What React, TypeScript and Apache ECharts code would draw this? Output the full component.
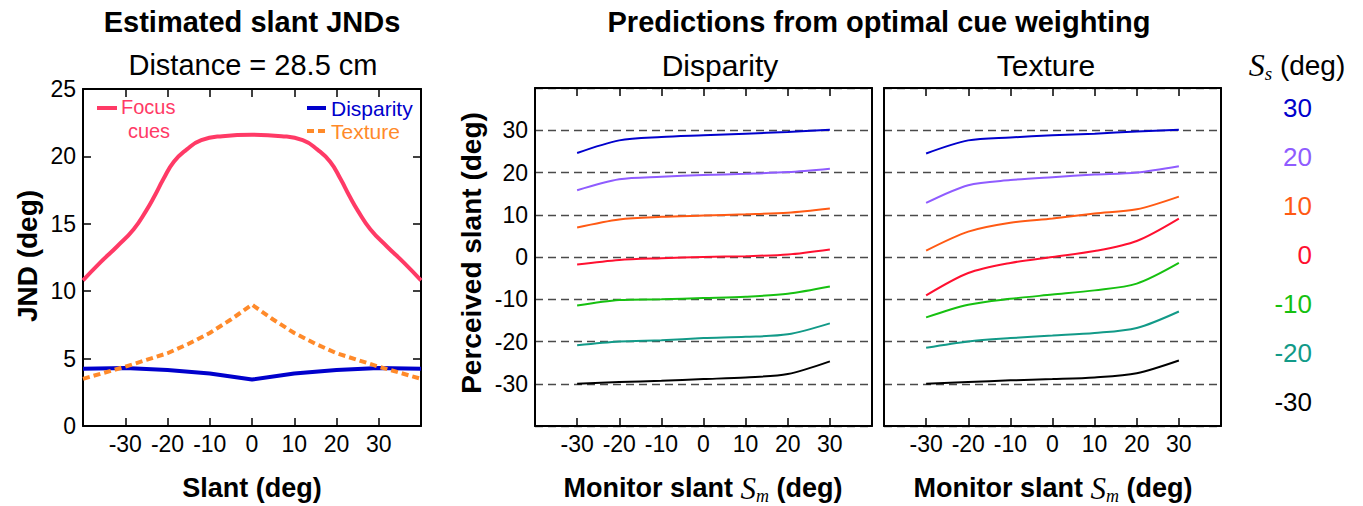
import React, { useEffect, useRef } from "react";
import * as echarts from "echarts";

// ---------- Data ----------
// Left panel: estimated slant JNDs
const focusX = [-40, -36, -32, -28, -25, -23, -21, -18.5, -15.5, -12, -7, 0, 7, 12, 15.5, 18.5, 21, 23, 25, 28, 32, 36, 40];
const focusJND = [10.8, 12.1, 13.3, 14.6, 16.0, 17.1, 18.3, 19.6, 20.5, 21.2, 21.5, 21.6, 21.5, 21.2, 20.5, 19.6, 18.3, 17.1, 16.0, 14.6, 13.3, 12.1, 10.8];
const disparityX = [-40, -30, -20, -10, 0, 10, 20, 30, 40];
const disparityJND = [4.25, 4.3, 4.15, 3.9, 3.45, 3.9, 4.15, 4.3, 4.25];
const textureX = [-40, -35, -30, -25, -20, -15, -10, -5, 0, 5, 10, 15, 20, 25, 30, 35, 40];
const textureJND = [3.5, 3.95, 4.4, 4.9, 5.4, 6.1, 6.9, 7.9, 9.0, 7.9, 6.9, 6.1, 5.4, 4.9, 4.4, 3.95, 3.5];

// Middle/right panels: predicted perceived slant vs monitor slant
const monitorSlant = [-30, -20, -10, 0, 10, 20, 30];
const simSlants = [30, 20, 10, 0, -10, -20, -30];
const simColors = ["#0000cc", "#8f5cff", "#ff5a14", "#ff1030", "#16c010", "#129a88", "#000000"];

const dispPred30 = [24.6, 27.6, 28.4, 28.8, 29.2, 29.6, 30.1];
const dispPred20 = [15.8, 18.4, 19.0, 19.4, 19.7, 20.1, 20.9];
const dispPred10 = [7.0, 8.9, 9.5, 9.8, 10.1, 10.5, 11.5];
const dispPred0 = [-1.8, -0.7, -0.3, 0.0, 0.2, 0.6, 1.8];
const dispPredM10 = [-11.5, -10.2, -10.0, -9.7, -9.4, -8.7, -7.0];
const dispPredM20 = [-20.9, -20.0, -19.7, -19.2, -18.9, -18.3, -15.7];
const dispPredM30 = [-30.0, -29.6, -29.3, -28.9, -28.5, -27.7, -24.7];

const texPred30 = [24.5, 27.6, 28.3, 28.8, 29.2, 29.7, 30.1];
const texPred20 = [12.8, 17.0, 18.2, 18.9, 19.5, 20.0, 21.5];
const texPred10 = [1.5, 6.0, 8.1, 9.1, 10.3, 11.3, 14.3];
const texPred0 = [-9.1, -3.8, -1.4, 0.0, 1.4, 3.8, 9.1];
const texPredM10 = [-14.3, -11.3, -9.9, -8.9, -7.9, -6.3, -1.4];
const texPredM20 = [-21.5, -20.0, -19.2, -18.6, -18.0, -16.8, -12.9];
const texPredM30 = [-30.0, -29.6, -29.2, -28.9, -28.5, -27.5, -24.5];

const dispPreds = [dispPred30, dispPred20, dispPred10, dispPred0, dispPredM10, dispPredM20, dispPredM30];
const texPreds = [texPred30, texPred20, texPred10, texPred0, texPredM10, texPredM20, texPredM30];

const FONT = "'Liberation Sans', Arial, Helvetica, sans-serif";
const SERIF = "'Liberation Serif', 'Times New Roman', serif";

const zip = (xs: number[], ys: number[]) => xs.map((x, i) => [x, ys[i]]);

export default function App() {
  const ref = useRef<HTMLDivElement>(null);

  useEffect(() => {
    document.body.style.margin = "0";
    if (!ref.current) return;
    const chart = echarts.init(ref.current, undefined, { renderer: "svg" });

    const tickLabel = { fontFamily: FONT, fontSize: 23, color: "#000" };
    const boxLine = { show: true, lineStyle: { color: "#000", width: 2 } };
    const hide40 = (v: number) => (Math.abs(v) === 40 ? "" : String(v));

    const grids = [
      { left: 83, top: 89, width: 338, height: 337 },
      { left: 535, top: 88, width: 337, height: 338 },
      { left: 884, top: 88, width: 337, height: 338 },
    ];

    const xAxes: any[] = [];
    const yAxes: any[] = [];
    grids.forEach((_, gi) => {
      xAxes.push({
        type: "value", gridIndex: gi, position: "bottom", min: -40, max: 40, interval: 10,
        axisLine: { ...boxLine, onZero: false },
        axisTick: { show: true, inside: true, length: 8, lineStyle: { color: "#000", width: 1.5 } },
        axisLabel: { ...tickLabel, margin: 6, formatter: hide40 },
        splitLine: { show: false },
      });
      xAxes.push({
        type: "value", gridIndex: gi, position: "top", min: -40, max: 40, interval: 10,
        axisLine: { ...boxLine, onZero: false },
        axisTick: { show: true, inside: true, length: 8, lineStyle: { color: "#000", width: 1.5 } },
        axisLabel: { show: false },
        splitLine: { show: false },
      });
      if (gi === 0) {
        yAxes.push({
          type: "value", gridIndex: gi, position: "left", min: 0, max: 25, interval: 5,
          axisLine: { ...boxLine, onZero: false },
          axisTick: { show: true, inside: true, length: 8, lineStyle: { color: "#000", width: 1.5 } },
          axisLabel: { ...tickLabel, margin: 7 },
          splitLine: { show: false },
        });
        yAxes.push({
          type: "value", gridIndex: gi, position: "right", min: 0, max: 25, interval: 5,
          axisLine: { ...boxLine, onZero: false },
          axisTick: { show: true, inside: true, length: 8, lineStyle: { color: "#000", width: 1.5 } },
          axisLabel: { show: false },
          splitLine: { show: false },
        });
      } else {
        yAxes.push({
          type: "value", gridIndex: gi, position: "left", min: -40, max: 40, interval: 10,
          axisLine: { ...boxLine, onZero: false },
          axisTick: { show: false },
          axisLabel: { ...tickLabel, margin: 7, show: gi === 1, formatter: hide40 },
          splitLine: { show: true, lineStyle: { color: "#4a4a4a", width: 1.3, type: [8, 5] } },
        });
        yAxes.push({
          type: "value", gridIndex: gi, position: "right", min: -40, max: 40, interval: 10,
          axisLine: { ...boxLine, onZero: false },
          axisTick: { show: false },
          axisLabel: { show: false },
          splitLine: { show: false },
        });
      }
    });

    const series: any[] = [
      {
        type: "line", name: "Focus cues", xAxisIndex: 0, yAxisIndex: 0, smooth: 0.5, symbol: "none",
        data: zip(focusX, focusJND), lineStyle: { color: "#ff3a66", width: 4 }, z: 3,
      },
      {
        type: "line", name: "Disparity", xAxisIndex: 0, yAxisIndex: 0, symbol: "none",
        data: zip(disparityX, disparityJND), lineStyle: { color: "#0000cc", width: 4 }, z: 2,
      },
      {
        type: "line", name: "Texture", xAxisIndex: 0, yAxisIndex: 0, symbol: "none",
        data: zip(textureX, textureJND), lineStyle: { color: "#ff8a2a", width: 4, type: [7, 4] }, z: 4,
      },
    ];
    dispPreds.forEach((ys, i) => {
      series.push({
        type: "line", name: "Disparity S_s=" + simSlants[i], xAxisIndex: 2, yAxisIndex: 2, symbol: "none",
        smooth: 0.3, data: zip(monitorSlant, ys), lineStyle: { color: simColors[i], width: 2 }, z: 3,
      });
    });
    texPreds.forEach((ys, i) => {
      series.push({
        type: "line", name: "Texture S_s=" + simSlants[i], xAxisIndex: 4, yAxisIndex: 4, symbol: "none",
        smooth: 0.3, data: zip(monitorSlant, ys), lineStyle: { color: simColors[i], width: 2 }, z: 3,
      });
    });

    const txt = (text: string, x: number, y: number, size: number, opts: any = {}) => ({
      type: "text", x, y, rotation: opts.rotation || 0,
      style: {
        text, fill: opts.color || "#000", fontFamily: FONT, fontSize: size,
        fontWeight: opts.bold ? "bold" : "normal",
        align: opts.align || "center", verticalAlign: "middle", rich: opts.rich,
      },
    });

    const monitorRich = {
      b: { fontFamily: FONT, fontSize: 27, fontWeight: "bold", color: "#000" },
      s: { fontFamily: SERIF, fontSize: 31, fontStyle: "italic", color: "#000" },
      sub: { fontFamily: SERIF, fontSize: 18, fontStyle: "italic", color: "#000", padding: [16, 0, 0, 0] },
    };
    const ssRich = {
      r: { fontFamily: FONT, fontSize: 28, color: "#000" },
      s: { fontFamily: SERIF, fontSize: 32, fontStyle: "italic", color: "#000" },
      sub: { fontFamily: SERIF, fontSize: 19, fontStyle: "italic", color: "#000", padding: [16, 0, 0, 0] },
    };

    const graphic: any[] = [
      txt("Estimated slant JNDs", 252, 22, 29, { bold: true }),
      txt("Distance = 28.5 cm", 253, 65, 29),
      txt("Predictions from optimal cue weighting", 879, 22, 29, { bold: true }),
      txt("Disparity", 720, 65, 30),
      txt("Texture", 1046, 65, 30),
      txt("JND (deg)", 27, 256, 28, { bold: true, rotation: Math.PI / 2 }),
      txt("Perceived slant (deg)", 471, 253, 28, { bold: true, rotation: Math.PI / 2 }),
      txt("Slant (deg)", 252, 488, 27, { bold: true }),
      txt("{b|Monitor slant }{s|S}{sub|m}{b| (deg)}", 703, 488, 27, { rich: monitorRich }),
      txt("{b|Monitor slant }{s|S}{sub|m}{b| (deg)}", 1053, 488, 27, { rich: monitorRich }),
      txt("{s|S}{sub|s}{r| (deg)}", 1297, 65, 28, { rich: ssRich }),
      // left panel legend
      { type: "line", shape: { x1: 97, y1: 108, x2: 117, y2: 108 }, style: { stroke: "#ff3a66", lineWidth: 4 } },
      txt("Focus", 121, 107, 20, { color: "#ff3a66", align: "left" }),
      txt("cues", 149, 131, 20, { color: "#ff3a66" }),
      { type: "line", shape: { x1: 307, y1: 108, x2: 326, y2: 108 }, style: { stroke: "#0000cc", lineWidth: 4 } },
      txt("Disparity", 331, 108, 21, { color: "#0000cc", align: "left" }),
      { type: "line", shape: { x1: 307, y1: 131, x2: 326, y2: 131 }, style: { stroke: "#ff8a2a", lineWidth: 4, lineDash: [7, 4] } },
      txt("Texture", 331, 131, 21, { color: "#ff8a2a", align: "left" }),
    ];
    simSlants.forEach((s, i) => {
      graphic.push(txt(String(s), 1312, 108 + i * 49, 26, { color: simColors[i], align: "right" }));
    });

    chart.setOption({
      animation: false,
      backgroundColor: "#fff",
      grid: grids,
      xAxis: xAxes,
      yAxis: yAxes,
      series,
      graphic,
    });

    return () => chart.dispose();
  }, []);

  return <div ref={ref} style={{ width: 1363, height: 506 }} />;
}
